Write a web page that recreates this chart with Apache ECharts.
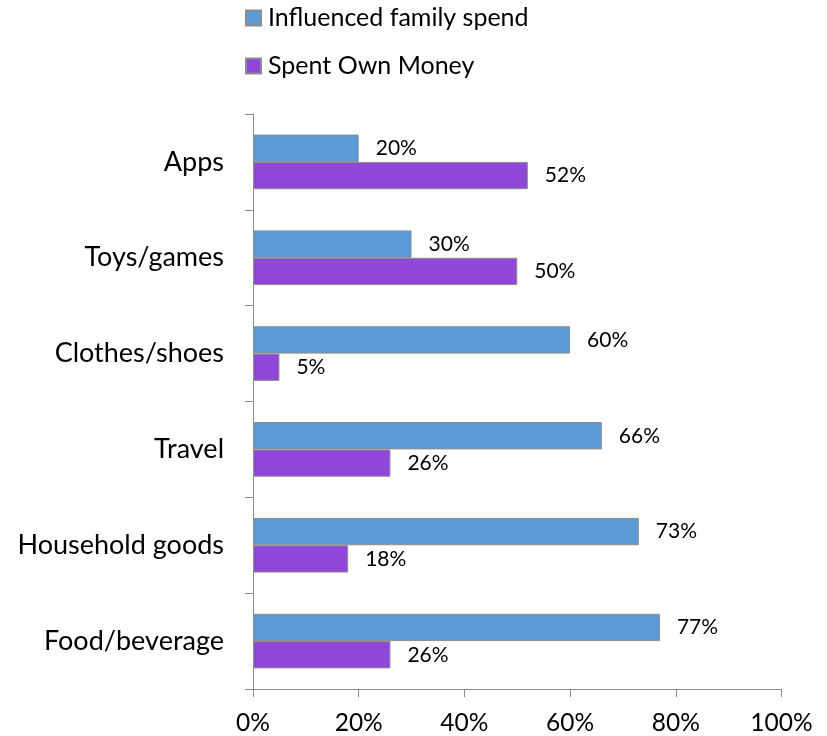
<!DOCTYPE html>
<html>
<head>
<meta charset="utf-8">
<script src="https://cdn.jsdelivr.net/npm/echarts@6/dist/echarts.min.js"></script>
<style>
html,body{margin:0;padding:0;background:#fff;}
#chart{width:827px;height:736px;}
</style>
</head>
<body>
<div id="chart"></div>
<script>
const categories = ['Apps', 'Toys/games', 'Clothes/shoes', 'Travel', 'Household goods', 'Food/beverage'];
const influencedFamilySpend = [20, 30, 60, 66, 73, 77];
const spentOwnMoney = [52, 50, 5, 26, 18, 26];
const xTicks = [0, 20, 40, 60, 80, 100];
const seriesNames = ['Influenced family spend', 'Spent Own Money'];

const FONT = 'Lato';
const chart = echarts.init(document.getElementById('chart'), null, {renderer: 'canvas'});
const labelCfg = {
  show: true,
  position: 'right',
  distance: 17,
  formatter: p => p.value + '%',
  color: '#000',
  fontFamily: FONT,
  fontSize: 21
};
chart.setOption({
  animation: false,
  backgroundColor: '#fff',
  textStyle: {fontFamily: FONT},
  legend: {
    orient: 'vertical',
    left: 240,
    top: -2,
    itemWidth: 15,
    itemHeight: 15,
    itemGap: 18,
    icon: 'rect',
    textStyle: {fontFamily: FONT, fontSize: 25, color: '#000', lineHeight: 30, padding: [0, 0, 0, 2]},
    data: seriesNames
  },
  grid: {left: 253, right: 45.5, top: 114, bottom: 47, containLabel: false},
  xAxis: {
    type: 'value',
    min: xTicks[0],
    max: xTicks[xTicks.length - 1],
    interval: 20,
    axisLine: {show: true, lineStyle: {color: '#8c8c8c', width: 1}},
    axisTick: {show: true, length: 8, lineStyle: {color: '#8c8c8c'}},
    splitLine: {show: false},
    axisLabel: {formatter: v => v + '%', color: '#000', fontFamily: FONT, fontSize: 24.5, margin: 22}
  },
  yAxis: {
    type: 'category',
    inverse: true,
    data: categories,
    axisLine: {show: true, lineStyle: {color: '#8c8c8c', width: 1}},
    axisTick: {show: true, length: 8, alignWithLabel: false, lineStyle: {color: '#8c8c8c'}},
    axisLabel: {color: '#000', fontFamily: FONT, fontSize: 27, margin: 29}
  },
  series: [
    {
      name: seriesNames[0],
      type: 'bar',
      data: influencedFamilySpend,
      barGap: '0%',
      barCategoryGap: '43%',
      itemStyle: {color: '#5b9bd5', borderColor: '#8c8c8c', borderWidth: 1},
      label: labelCfg
    },
    {
      name: seriesNames[1],
      type: 'bar',
      data: spentOwnMoney,
      barGap: '0%',
      barCategoryGap: '43%',
      itemStyle: {color: '#8f47d9', borderColor: '#8c8c8c', borderWidth: 1},
      label: labelCfg
    }
  ]
});
</script>
</body>
</html>
